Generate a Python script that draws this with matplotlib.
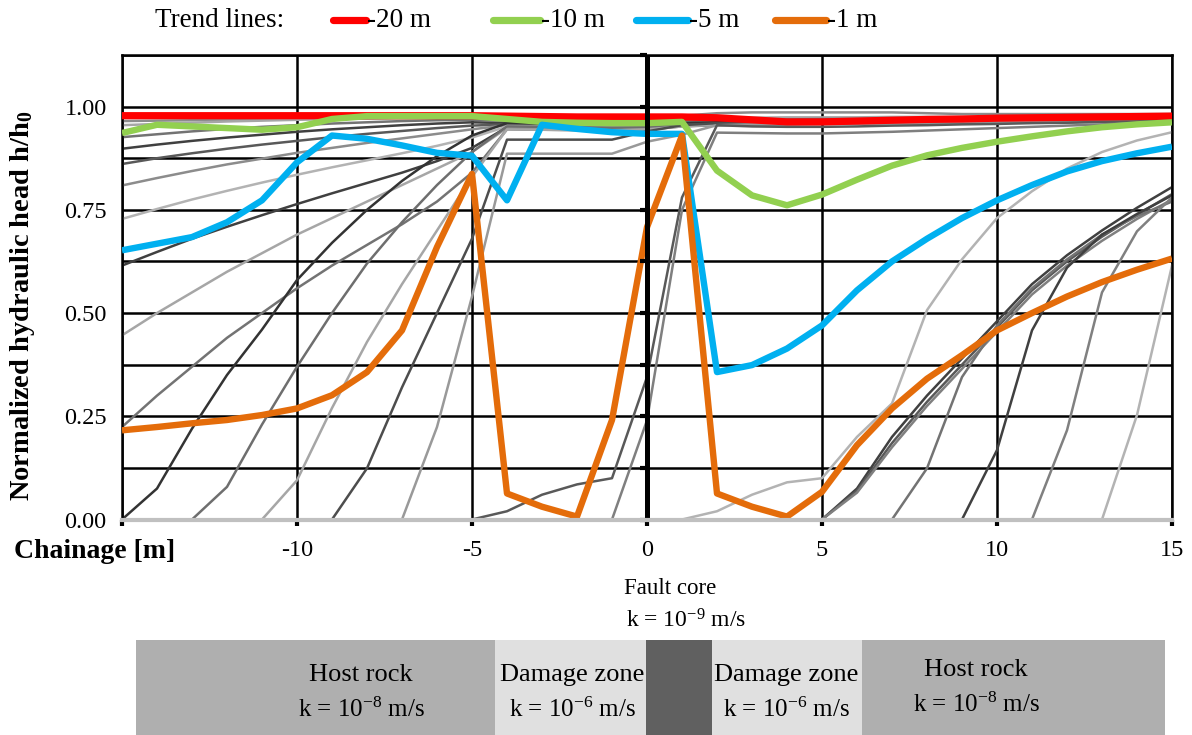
import matplotlib
matplotlib.use('Agg')
import matplotlib.pyplot as plt
from matplotlib.patches import Rectangle
from matplotlib.lines import Line2D
import numpy as np

plt.rcParams['font.family'] = ['Liberation Serif', 'DejaVu Serif']
plt.rcParams['mathtext.fontset'] = 'custom'
plt.rcParams['mathtext.rm'] = 'Liberation Serif'
plt.rcParams['mathtext.it'] = 'Liberation Serif:italic'
plt.rcParams['mathtext.bf'] = 'Liberation Serif:bold'

W, H = 1192, 735

# chainage of the profile points [m]
chainage = np.arange(-15, 16)

# trend lines (head at fixed distance ahead of face)
trend_labels = ['-20 m', '-10 m', '-5 m', '-1 m']
trend_colors = ['#ff0000', '#92d050', '#00b0f0', '#e46c0a']
trend_widths = [5.2, 4.6, 4.6, 4.6]
trend_20 = [0.978, 0.978, 0.978, 0.978, 0.978, 0.978, 0.978, 0.978, 0.978, 0.978, 0.978,
            0.977, 0.976, 0.975, 0.975, 0.975,
            0.975, 0.973, 0.968, 0.963, 0.963, 0.965, 0.967, 0.969, 0.970, 0.972, 0.973, 0.974, 0.975, 0.976, 0.977]
trend_10 = [0.936, 0.956, 0.952, 0.948, 0.944, 0.950, 0.970, 0.977, 0.977, 0.977, 0.977,
            0.970, 0.963, 0.961, 0.960, 0.960,
            0.963, 0.845, 0.785, 0.761, 0.787, 0.823, 0.857, 0.882, 0.900, 0.915, 0.928, 0.940, 0.950, 0.957, 0.962]
trend_5 = [0.652, 0.668, 0.684, 0.720, 0.773, 0.865, 0.930, 0.922, 0.906, 0.888, 0.881,
           0.773, 0.956, 0.946, 0.938, 0.934,
           0.934, 0.357, 0.374, 0.414, 0.470, 0.555, 0.625, 0.680, 0.730, 0.773, 0.810, 0.843, 0.868, 0.887, 0.903]
trend_1 = [0.216, 0.224, 0.233, 0.241, 0.253, 0.269, 0.301, 0.357, 0.458, 0.660, 0.837,
           0.063, 0.031, 0.007, 0.241, 0.708,
           0.930, 0.063, 0.031, 0.007, 0.067, 0.180, 0.269, 0.341, 0.398, 0.458, 0.500, 0.540, 0.575, 0.605, 0.632]
trends = [trend_20, trend_10, trend_5, trend_1]

# head profiles for the successive excavation stages (grey lines)
profiles = [
    [0.965, 0.966, 0.967, 0.968, 0.969, 0.970, 0.971, 0.972, 0.973, 0.974, 0.975, 0.975, 0.975, 0.975, 0.975, 0.975,
     0.978, 0.984, 0.986, 0.986, 0.986, 0.986, 0.986, 0.984, 0.982, 0.982, 0.982, 0.982, 0.982, 0.982, 0.982],
    [0.955, 0.958, 0.961, 0.964, 0.966, 0.968, 0.970, 0.971, 0.972, 0.973, 0.973, 0.972, 0.971, 0.970, 0.969, 0.968,
     0.970, 0.972, 0.973, 0.974, 0.974, 0.974, 0.975, 0.975, 0.975, 0.975, 0.976, 0.976, 0.976, 0.976, 0.976],
    [0.926, 0.933, 0.940, 0.946, 0.951, 0.955, 0.959, 0.962, 0.965, 0.967, 0.968, 0.966, 0.965, 0.964, 0.963, 0.962,
     0.965, 0.967, 0.968, 0.969, 0.970, 0.970, 0.971, 0.971, 0.972, 0.972, 0.972, 0.973, 0.973, 0.973, 0.973],
    [0.898, 0.908, 0.917, 0.925, 0.932, 0.939, 0.945, 0.950, 0.955, 0.959, 0.962, 0.960, 0.958, 0.957, 0.956, 0.955,
     0.958, 0.961, 0.962, 0.963, 0.964, 0.965, 0.966, 0.966, 0.967, 0.967, 0.968, 0.968, 0.969, 0.969, 0.969],
    [0.861, 0.875, 0.887, 0.898, 0.908, 0.917, 0.926, 0.934, 0.941, 0.948, 0.954, 0.957, 0.956, 0.955, 0.954, 0.954,
     0.957, 0.960, 0.961, 0.962, 0.963, 0.964, 0.965, 0.965, 0.966, 0.966, 0.967, 0.967, 0.968, 0.968, 0.968],
    [0.809, 0.827, 0.844, 0.860, 0.874, 0.888, 0.900, 0.912, 0.923, 0.934, 0.945, 0.955, 0.954, 0.953, 0.952, 0.952,
     0.956, 0.959, 0.960, 0.961, 0.962, 0.963, 0.964, 0.964, 0.965, 0.965, 0.966, 0.966, 0.967, 0.967, 0.967],
    [0.728, 0.752, 0.775, 0.796, 0.816, 0.835, 0.853, 0.870, 0.887, 0.905, 0.925, 0.952, 0.951, 0.950, 0.949, 0.950,
     0.955, 0.958, 0.959, 0.960, 0.961, 0.962, 0.963, 0.963, 0.964, 0.964, 0.965, 0.965, 0.966, 0.966, 0.966],
    [0.615, 0.648, 0.680, 0.709, 0.737, 0.764, 0.790, 0.815, 0.840, 0.868, 0.900, 0.950, 0.949, 0.948, 0.947, 0.948,
     0.954, 0.957, 0.958, 0.959, 0.960, 0.961, 0.962, 0.962, 0.963, 0.963, 0.964, 0.964, 0.965, 0.965, 0.965],
    [0.446, 0.500, 0.550, 0.600, 0.645, 0.690, 0.730, 0.770, 0.810, 0.850, 0.890, 0.948, 0.947, 0.946, 0.945, 0.946,
     0.953, 0.956, 0.957, 0.958, 0.959, 0.960, 0.961, 0.961, 0.962, 0.962, 0.963, 0.963, 0.964, 0.964, 0.964],
    [0.224, 0.300, 0.370, 0.440, 0.500, 0.560, 0.615, 0.665, 0.715, 0.770, 0.840, 0.945, 0.944, 0.943, 0.942, 0.944,
     0.952, 0.955, 0.956, 0.957, 0.958, 0.959, 0.960, 0.960, 0.961, 0.961, 0.962, 0.962, 0.963, 0.963, 0.963],
    [0.000, 0.075, 0.220, 0.350, 0.460, 0.580, 0.670, 0.750, 0.820, 0.880, 0.930, 0.960, 0.959, 0.958, 0.957, 0.957,
     0.960, 0.962, 0.963, 0.964, 0.965, 0.966, 0.967, 0.967, 0.968, 0.968, 0.969, 0.969, 0.970, 0.970, 0.970],
    [0.000, 0.000, 0.000, 0.079, 0.230, 0.370, 0.500, 0.620, 0.720, 0.810, 0.890, 0.952, 0.951, 0.950, 0.949, 0.950,
     0.955, 0.958, 0.959, 0.960, 0.961, 0.962, 0.963, 0.963, 0.964, 0.964, 0.965, 0.965, 0.966, 0.966, 0.966],
    [0.000, 0.000, 0.000, 0.000, 0.000, 0.095, 0.270, 0.430, 0.570, 0.700, 0.830, 0.945, 0.944, 0.943, 0.942, 0.945,
     0.952, 0.956, 0.957, 0.958, 0.959, 0.960, 0.961, 0.961, 0.962, 0.962, 0.963, 0.963, 0.964, 0.964, 0.964],
    [0.000, 0.000, 0.000, 0.000, 0.000, 0.000, 0.000, 0.124, 0.320, 0.500, 0.680, 0.920, 0.920, 0.920, 0.920, 0.940,
     0.955, 0.960, 0.961, 0.962, 0.963, 0.963, 0.964, 0.964, 0.965, 0.965, 0.966, 0.966, 0.967, 0.967, 0.967],
    [0.000, 0.000, 0.000, 0.000, 0.000, 0.000, 0.000, 0.000, 0.000, 0.224, 0.540, 0.886, 0.886, 0.886, 0.886, 0.915,
     0.932, 0.955, 0.957, 0.958, 0.959, 0.960, 0.961, 0.961, 0.962, 0.962, 0.963, 0.963, 0.964, 0.964, 0.964],
    [0.000, 0.000, 0.000, 0.000, 0.000, 0.000, 0.000, 0.000, 0.000, 0.000, 0.000, 0.020, 0.060, 0.085, 0.100, 0.345,
     0.780, 0.955, 0.952, 0.951, 0.951, 0.952, 0.954, 0.955, 0.957, 0.958, 0.960, 0.961, 0.963, 0.964, 0.966],
    [0.000, 0.000, 0.000, 0.000, 0.000, 0.000, 0.000, 0.000, 0.000, 0.000, 0.000, 0.000, 0.000, 0.000, 0.000, 0.240,
     0.750, 0.937, 0.936, 0.935, 0.935, 0.937, 0.939, 0.942, 0.945, 0.948, 0.951, 0.954, 0.957, 0.960, 0.962],
    [0.000, 0.000, 0.000, 0.000, 0.000, 0.000, 0.000, 0.000, 0.000, 0.000, 0.000, 0.000, 0.000, 0.000, 0.000, 0.000,
     0.000, 0.020, 0.060, 0.090, 0.100, 0.200, 0.281, 0.507, 0.630, 0.730, 0.795, 0.850, 0.890, 0.918, 0.938],
    [0.000, 0.000, 0.000, 0.000, 0.000, 0.000, 0.000, 0.000, 0.000, 0.000, 0.000, 0.000, 0.000, 0.000, 0.000, 0.000,
     0.000, 0.000, 0.000, 0.000, 0.000, 0.075, 0.200, 0.300, 0.390, 0.480, 0.570, 0.640, 0.700, 0.755, 0.805],
    [0.000, 0.000, 0.000, 0.000, 0.000, 0.000, 0.000, 0.000, 0.000, 0.000, 0.000, 0.000, 0.000, 0.000, 0.000, 0.000,
     0.000, 0.000, 0.000, 0.000, 0.000, 0.070, 0.185, 0.285, 0.375, 0.465, 0.555, 0.625, 0.685, 0.738, 0.788],
    [0.000, 0.000, 0.000, 0.000, 0.000, 0.000, 0.000, 0.000, 0.000, 0.000, 0.000, 0.000, 0.000, 0.000, 0.000, 0.000,
     0.000, 0.000, 0.000, 0.000, 0.000, 0.065, 0.175, 0.275, 0.365, 0.455, 0.545, 0.615, 0.675, 0.728, 0.775],
    [0.000, 0.000, 0.000, 0.000, 0.000, 0.000, 0.000, 0.000, 0.000, 0.000, 0.000, 0.000, 0.000, 0.000, 0.000, 0.000,
     0.000, 0.000, 0.000, 0.000, 0.000, 0.000, 0.000, 0.124, 0.345, 0.470, 0.560, 0.630, 0.690, 0.735, 0.770],
    [0.000, 0.000, 0.000, 0.000, 0.000, 0.000, 0.000, 0.000, 0.000, 0.000, 0.000, 0.000, 0.000, 0.000, 0.000, 0.000,
     0.000, 0.000, 0.000, 0.000, 0.000, 0.000, 0.000, 0.000, 0.000, 0.168, 0.458, 0.610, 0.690, 0.740, 0.785],
    [0.000, 0.000, 0.000, 0.000, 0.000, 0.000, 0.000, 0.000, 0.000, 0.000, 0.000, 0.000, 0.000, 0.000, 0.000, 0.000,
     0.000, 0.000, 0.000, 0.000, 0.000, 0.000, 0.000, 0.000, 0.000, 0.000, 0.000, 0.216, 0.550, 0.698, 0.780],
    [0.000, 0.000, 0.000, 0.000, 0.000, 0.000, 0.000, 0.000, 0.000, 0.000, 0.000, 0.000, 0.000, 0.000, 0.000, 0.000,
     0.000, 0.000, 0.000, 0.000, 0.000, 0.000, 0.000, 0.000, 0.000, 0.000, 0.000, 0.000, 0.000, 0.253, 0.615],
]
profile_shades = ['#8c8c8c', '#a6a6a6', '#737373', '#404040', '#595959', '#8c8c8c', '#b3b3b3', '#404040',
                  '#a6a6a6', '#737373', '#333333', '#6e6e6e', '#a6a6a6', '#4d4d4d', '#999999', '#595959',
                  '#7f7f7f', '#b3b3b3', '#404040', '#595959', '#808080', '#737373', '#404040', '#808080', '#b3b3b3']

# axis ticks
x_ticks = [-15, -10, -5, 0, 5, 10, 15]
x_tick_labels = ['', '-10', '-5', '0', '5', '10', '15']
y_ticks = np.arange(0, 1.126, 0.125)
y_tick_labels = ['0.00', '', '0.25', '', '0.50', '', '0.75', '', '1.00', '']

# geological zones drawn below the chart (pixel edges of the schematic)
zone_edges = [136, 495, 646, 712, 862, 1165]
zone_colors = ['#afafaf', '#e0e0e0', '#606060', '#e0e0e0', '#afafaf']


fig = plt.figure(figsize=(W / 100, H / 100), dpi=100)
ax = fig.add_axes([122 / W, 1 - 519.5 / H, (1172 - 122) / W, (519.5 - 55) / H])

for vals, shade in zip(profiles, profile_shades):
    ax.plot(chainage, vals, color=shade, lw=1.8, zorder=2, solid_joinstyle='round')

for vals, col, lw in zip(trends, trend_colors, trend_widths):
    ax.plot(chainage, vals, color=col, lw=lw, zorder=3,
            solid_joinstyle='round', solid_capstyle='butt')

ax.set_xlim(-15, 15)
ax.set_ylim(0, 1.125)
ax.set_xticks(x_ticks)
ax.set_xticklabels(x_tick_labels)
ax.set_yticks(y_ticks)
ax.set_yticklabels(y_tick_labels)
ax.grid(True, color='black', lw=1.8, zorder=1)
ax.set_axisbelow(True)
ax.tick_params(axis='y', length=0, pad=11, labelsize=17.5)
ax.tick_params(axis='x', length=4, width=3, color='black', pad=11, labelsize=17.5)

for side in ['left', 'top', 'right']:
    ax.spines[side].set_color('black')
    ax.spines[side].set_linewidth(1.8)
ax.spines['bottom'].set_color('#c0c0c0')
ax.spines['bottom'].set_linewidth(3)
ax.spines['bottom'].set_zorder(6)

# vertical axis crossing at chainage 0
ax.axvline(0, color='black', lw=3.6, zorder=4)
ax.plot(np.zeros(len(y_ticks)), y_ticks, ls='none', marker=0, ms=5, mew=3,
        color='black', zorder=4, clip_on=False)

# overlay in pixel coordinates for labels, legend and the zone schematic
ov = fig.add_axes([0, 0, 1, 1], zorder=10)
ov.set_xlim(0, W)
ov.set_ylim(H, 0)
ov.axis('off')
ov.patch.set_visible(False)

ov.text(23, 306, 'Normalized hydraulic head h/h$_\\mathbf{0}$', rotation=90,
        fontsize=20.5, fontweight='bold', ha='center', va='center')
ov.text(14, 551, 'Chainage [m]', fontsize=20, fontweight='bold', ha='left', va='center')

# legend
ov.text(155, 20, 'Trend lines:', fontsize=19.5, ha='left', va='center')
handle_spans = [(333, 366), (493, 540), (636, 688), (775, 826)]
for (x0, x1), col, lab in zip(handle_spans, trend_colors, trend_labels):
    ov.add_line(Line2D([x0, x1], [20, 20], color=col, lw=5.2, solid_capstyle='round'))
    ov.text(x1 + 1, 20, lab, fontsize=19.5, ha='left', va='center')

ov.text(670, 588, 'Fault core', fontsize=16.5, ha='center', va='center')
ov.text(686, 621, 'k = 10$^{\\mathregular{-9}}$ m/s', fontsize=17, ha='center', va='center')

for x0, x1, col in zip(zone_edges[:-1], zone_edges[1:], zone_colors):
    ov.add_patch(Rectangle((x0, 640), x1 - x0, 95, facecolor=col, edgecolor='none'))

zone_texts = [(361, 675, 'Host rock', 'k = 10$^{\\mathregular{-8}}$ m/s'),
              (572, 675, 'Damage zone', 'k = 10$^{\\mathregular{-6}}$ m/s'),
              (786, 675, 'Damage zone', 'k = 10$^{\\mathregular{-6}}$ m/s'),
              (976, 670, 'Host rock', 'k = 10$^{\\mathregular{-8}}$ m/s')]
for xc, yc, t1, t2 in zone_texts:
    ov.text(xc, yc, t1, fontsize=19, ha='center', va='center')
    ov.text(xc, yc + 35, t2, fontsize=18, ha='center', va='center')

fig.savefig('out.png', dpi=100, facecolor='white')
